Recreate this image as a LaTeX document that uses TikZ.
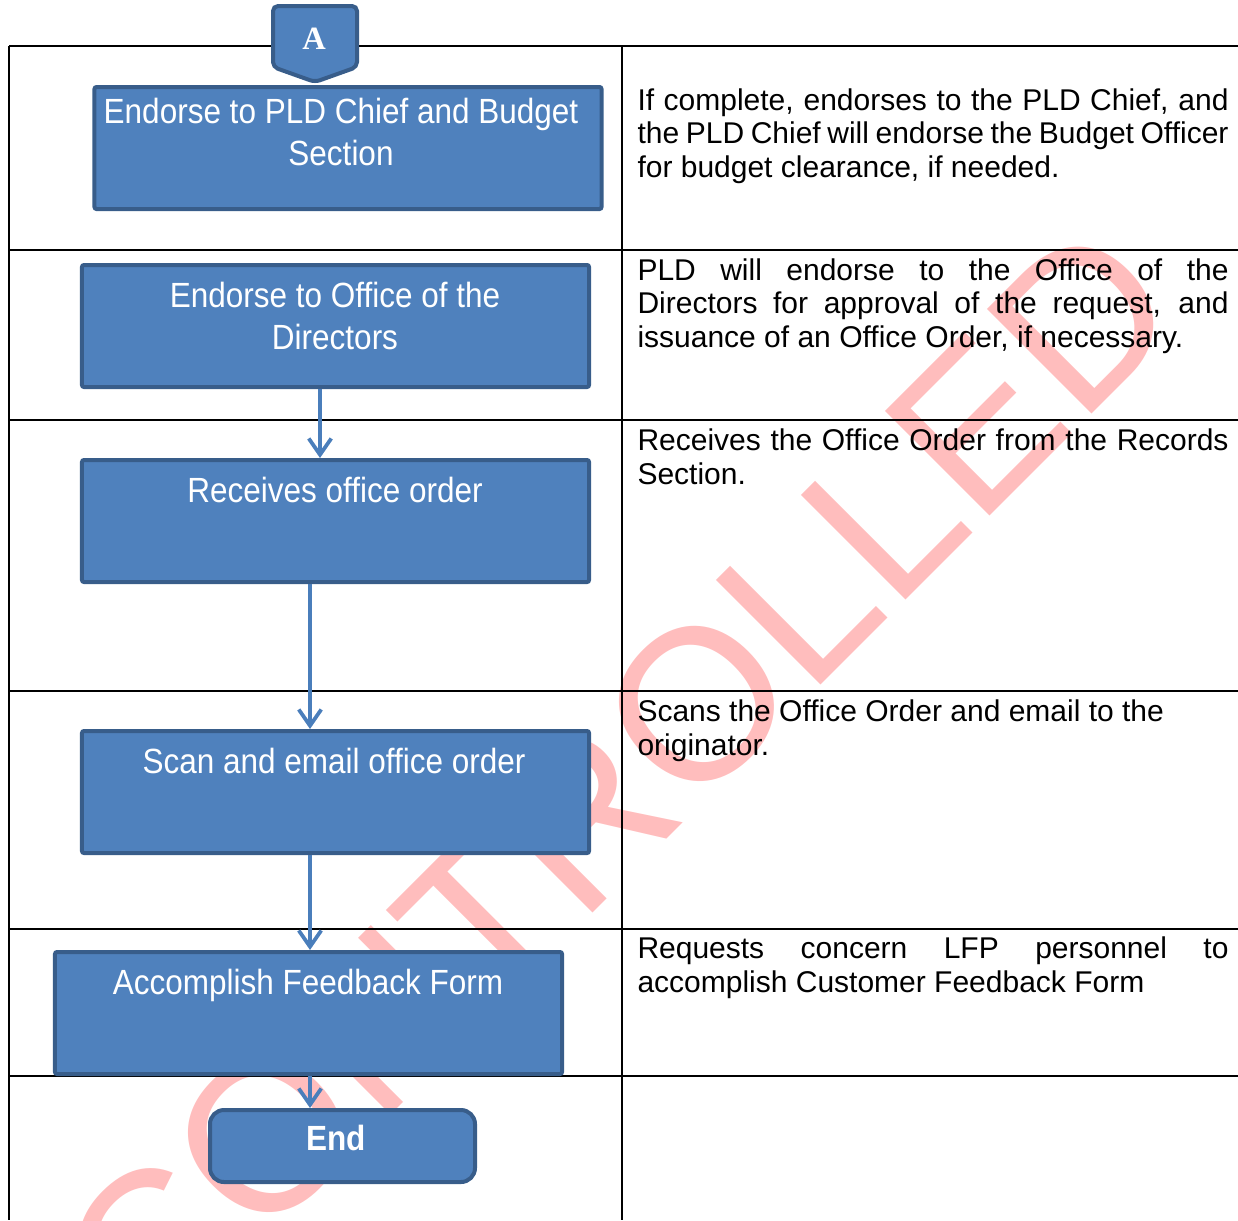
\documentclass[tikz,border=0pt]{standalone}
\usepackage{fontspec}
\setmainfont{Liberation Sans}
\newfontfamily\boxfont[FakeStretch=0.9]{Liberation Sans}
\newfontfamily\connfont{Liberation Serif}
\usetikzlibrary{arrows.meta}
\definecolor{flowfill}{HTML}{4F81BD}
\definecolor{flowedge}{HTML}{385D8A}
\definecolor{flowline}{HTML}{4A7EBB}
\definecolor{stamp}{RGB}{255,189,189}
\newlength\notew
\setlength\notew{236.4pt}

\begin{document}
\begin{tikzpicture}[x=0.4pt,y=-0.4pt,
  gridline/.style={line width=0.6pt, draw=black},
  flowbox/.style={draw=flowedge, fill=flowfill, line width=1.6pt,
    rounded corners=0.8pt, inner sep=0pt,
    minimum width=202.8pt, minimum height=48.8pt},
  endbox/.style={flowbox, rounded corners=5.6pt,
    minimum width=106pt, minimum height=28.8pt},
  boxtext/.style={text=white, align=center, inner sep=0pt, anchor=north,
    font=\boxfont\fontsize{14}{16.8}\selectfont},
  note/.style={align=left, inner sep=0pt, anchor=north west,
    font=\fontsize{12}{13.5}\selectfont},
  flowarrow/.style={draw=flowline, line width=1.5pt,
    -{Straight Barb[length=6.5pt,width=9pt]}},
]
\useasboundingbox (0,0) rectangle (1238,1220);
\clip (0,0) rectangle (1238,1220);

% watermark behind everything
\node[text=stamp, rotate=45, anchor=base west, inner sep=0pt, outer sep=0pt,
  font=\fontsize{86}{86}\selectfont] (stampmark) at (150,1356) {CONTROLLED};

% table rules
\foreach \yy in {46,250,420,691,929,1076}
  \draw[gridline] (9,\yy) -- (1238,\yy);
\draw[gridline] (9,46) -- (9,1220);
\draw[gridline] (622,46) -- (622,1220);

% off-page connector
\draw[draw=flowedge, fill=flowfill, line width=1.6pt, rounded corners=2pt]
  (273,6) -- (357,6) -- (357,67) -- (315,82) -- (273,67) -- cycle;
\node[text=white, inner sep=0pt, font=\connfont\bfseries\fontsize{13}{13}\selectfont]
  (conA) at (314,39) {A};

% process boxes
\node[flowbox] (b1) at (348,148) {};
\node[flowbox] (b2) at (335.5,326) {};
\node[flowbox] (b3) at (335.5,521) {};
\node[flowbox] (b4) at (335.5,792) {};
\node[flowbox] (b5) at (308.5,1013) {};
\node[endbox] (fin) at (342.5,1146) {};

\node[boxtext] (t1) at (341,98) {Endorse to PLD Chief and Budget\\Section};
\node[boxtext] (t2) at (335,282) {Endorse to Office of the\\Directors};
\node[boxtext] (t3) at (335,477) {Receives office order};
\node[boxtext] (t4) at (334,748) {Scan and email office order};
\node[boxtext] (t5) at (308,969) {Accomplish Feedback Form};
\node[boxtext, font=\boxfont\bfseries\fontsize{14}{16.8}\selectfont] (t6) at (336,1125) {End};

% connectors
\draw[flowarrow] ([xshift=-6.2pt]b2.south) -- ([xshift=-6.2pt]b3.north);
\draw[flowarrow] ([xshift=-10.2pt]b3.south) -- ([xshift=-10.2pt]b4.north);
\draw[flowarrow] ([xshift=-10.2pt]b4.south) -- ([xshift=0.6pt]b5.north);
\draw[flowarrow] ([xshift=0.6pt]b5.south) -- ([xshift=-13pt]fin.north);

% descriptions
\node[note] (n1) at (637,88) {\makebox[\notew][s]{If complete, endorses to the PLD Chief, and}\\
  \makebox[\notew][s]{the PLD Chief will endorse the Budget Officer}\\
  for budget clearance, if needed.};
\node[note] (n2) at (637,258) {\makebox[\notew][s]{PLD will endorse to the Office of the}\\
  \makebox[\notew][s]{Directors for approval of the request, and}\\
  issuance of an Office Order, if necessary.};
\node[note] (n3) at (637,428) {\makebox[\notew][s]{Receives the Office Order from the Records}\\
  Section.};
\node[note] (n4) at (637,699) {Scans the Office Order and email to the\\
  originator.};
\node[note] (n5) at (637,936) {\makebox[\notew][s]{Requests concern LFP personnel to}\\
  accomplish Customer Feedback Form};
\end{tikzpicture}
\end{document}
